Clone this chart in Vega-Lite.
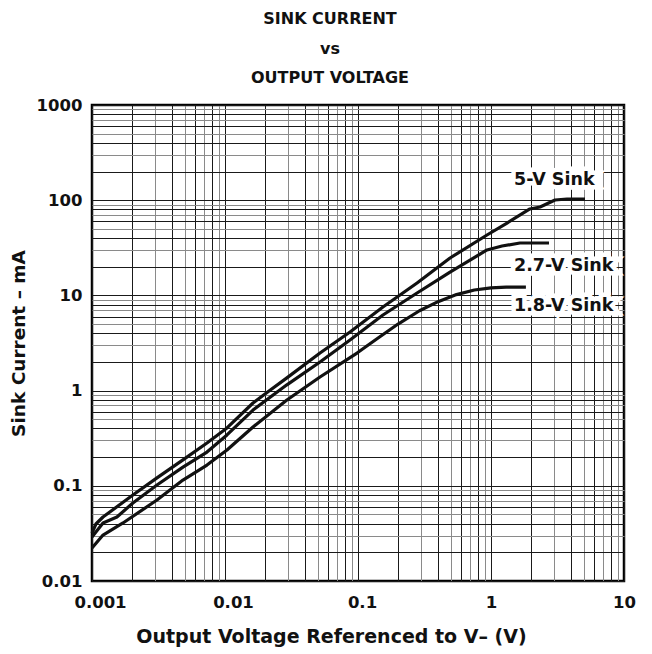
{
  "$schema": "https://vega.github.io/schema/vega-lite/v6.json",
  "width": 532,
  "height": 476,
  "autosize": {"type": "none"},
  "padding": {"left": 92, "top": 105, "right": 28, "bottom": 73},
  "background": "white",
  "title": {
    "text": ["SINK CURRENT", "vs", "OUTPUT VOLTAGE"],
    "font": "DejaVu Sans",
    "fontSize": 16,
    "fontWeight": "bold",
    "lineHeight": 29.5,
    "anchor": "middle",
    "offset": 11,
    "dx": -28,
    "color": "#111111"
  },
  "config": {
    "view": {"stroke": "black", "strokeWidth": 2.5},
    "axis": {
      "labelFont": "DejaVu Sans",
      "labelFontWeight": "bold",
      "labelFontSize": 16.5,
      "labelColor": "#111111",
      "titleFont": "DejaVu Sans",
      "titleFontWeight": "bold",
      "titleFontSize": 18.5,
      "titleColor": "#111111",
      "domain": false,
      "ticks": false,
      "gridWidth": 1,
      "gridOpacity": 1
    }
  },
  "datasets": {
    "curves": [
      {"series": "5-V Sink", "v": 0.001, "i": 0.0319},
      {"series": "5-V Sink", "v": 0.00107, "i": 0.0397},
      {"series": "5-V Sink", "v": 0.00121, "i": 0.047},
      {"series": "5-V Sink", "v": 0.00203, "i": 0.08},
      {"series": "5-V Sink", "v": 0.00308, "i": 0.121},
      {"series": "5-V Sink", "v": 0.00483, "i": 0.187},
      {"series": "5-V Sink", "v": 0.00732, "i": 0.282},
      {"series": "5-V Sink", "v": 0.01035, "i": 0.405},
      {"series": "5-V Sink", "v": 0.01624, "i": 0.741},
      {"series": "5-V Sink", "v": 0.0218, "i": 1.01},
      {"series": "5-V Sink", "v": 0.0292, "i": 1.36},
      {"series": "5-V Sink", "v": 0.0518, "i": 2.48},
      {"series": "5-V Sink", "v": 0.0871, "i": 4.13},
      {"series": "5-V Sink", "v": 0.154, "i": 7.55},
      {"series": "5-V Sink", "v": 0.278, "i": 13.5},
      {"series": "5-V Sink", "v": 0.492, "i": 24.7},
      {"series": "5-V Sink", "v": 0.933, "i": 43.1},
      {"series": "5-V Sink", "v": 1.32, "i": 57.6},
      {"series": "5-V Sink", "v": 1.96, "i": 80.9},
      {"series": "5-V Sink", "v": 2.34, "i": 84.9},
      {"series": "5-V Sink", "v": 3.03, "i": 100.5},
      {"series": "5-V Sink", "v": 3.73, "i": 103},
      {"series": "5-V Sink", "v": 5.09, "i": 103},
      {"series": "2.7-V Sink", "v": 0.001, "i": 0.029},
      {"series": "2.7-V Sink", "v": 0.00121, "i": 0.0407},
      {"series": "2.7-V Sink", "v": 0.00154, "i": 0.047},
      {"series": "2.7-V Sink", "v": 0.00203, "i": 0.066},
      {"series": "2.7-V Sink", "v": 0.00308, "i": 0.102},
      {"series": "2.7-V Sink", "v": 0.00483, "i": 0.157},
      {"series": "2.7-V Sink", "v": 0.00732, "i": 0.226},
      {"series": "2.7-V Sink", "v": 0.01035, "i": 0.342},
      {"series": "2.7-V Sink", "v": 0.01624, "i": 0.625},
      {"series": "2.7-V Sink", "v": 0.0292, "i": 1.15},
      {"series": "2.7-V Sink", "v": 0.0518, "i": 2.0},
      {"series": "2.7-V Sink", "v": 0.0871, "i": 3.4},
      {"series": "2.7-V Sink", "v": 0.154, "i": 6.22},
      {"series": "2.7-V Sink", "v": 0.278, "i": 10.6},
      {"series": "2.7-V Sink", "v": 0.492, "i": 17.6},
      {"series": "2.7-V Sink", "v": 0.933, "i": 30.0},
      {"series": "2.7-V Sink", "v": 1.21, "i": 33.0},
      {"series": "2.7-V Sink", "v": 1.65, "i": 35.5},
      {"series": "2.7-V Sink", "v": 2.73, "i": 35.5},
      {"series": "1.8-V Sink", "v": 0.001, "i": 0.0222},
      {"series": "1.8-V Sink", "v": 0.00121, "i": 0.0304},
      {"series": "1.8-V Sink", "v": 0.00171, "i": 0.0407},
      {"series": "1.8-V Sink", "v": 0.00308, "i": 0.0709},
      {"series": "1.8-V Sink", "v": 0.00483, "i": 0.115},
      {"series": "1.8-V Sink", "v": 0.00732, "i": 0.165},
      {"series": "1.8-V Sink", "v": 0.01035, "i": 0.238},
      {"series": "1.8-V Sink", "v": 0.01624, "i": 0.415},
      {"series": "1.8-V Sink", "v": 0.0292, "i": 0.797},
      {"series": "1.8-V Sink", "v": 0.0518, "i": 1.39},
      {"series": "1.8-V Sink", "v": 0.0983, "i": 2.48},
      {"series": "1.8-V Sink", "v": 0.139, "i": 3.5},
      {"series": "1.8-V Sink", "v": 0.2, "i": 5.0},
      {"series": "1.8-V Sink", "v": 0.29, "i": 6.9},
      {"series": "1.8-V Sink", "v": 0.4, "i": 8.6},
      {"series": "1.8-V Sink", "v": 0.55, "i": 10.2},
      {"series": "1.8-V Sink", "v": 0.75, "i": 11.4},
      {"series": "1.8-V Sink", "v": 1.0, "i": 12.0},
      {"series": "1.8-V Sink", "v": 1.3, "i": 12.2},
      {"series": "1.8-V Sink", "v": 1.83, "i": 12.2}
    ],
    "labels": [
      {"label": "5-V Sink", "v": 1.49, "i": 163},
      {"label": "2.7-V Sink", "v": 1.49, "i": 20.4},
      {"label": "1.8-V Sink", "v": 1.49, "i": 7.74}
    ]
  },
  "layer": [
    {
      "data": {"name": "curves"},
      "mark": {"type": "line", "color": "#111111", "strokeWidth": 3.2, "strokeJoin": "round", "strokeCap": "butt"},
      "encoding": {
        "x": {
          "field": "v", "type": "quantitative",
          "scale": {"type": "log", "domain": [0.001, 10], "nice": false},
          "axis": {
            "title": "Output Voltage Referenced to V– (V)",
            "titleFontSize": 19,
            "titleX": 239,
            "values": [0.001,0.002,0.003,0.004,0.005,0.006,0.007,0.008,0.009,0.01,0.02,0.03,0.04,0.05,0.06,0.07,0.08,0.09,0.1,0.2,0.3,0.4,0.5,0.6,0.7,0.8,0.9,1,2,3,4,5,6,7,8,9,10],
            "labelExpr": "round(datum.value / pow(10, floor(log(datum.value)/LN10 + 1e-6))) == 1 ? format(datum.value, '~g') : ''",
            "labelFlush": false,
            "labelOffset": {"condition": [{"test": "datum.value < 0.05", "value": 8}, {"test": "datum.value < 0.5", "value": 4}], "value": 0},
            "labelPadding": 13,
            "titlePadding": 17,
            "gridColor": {"condition": {"test": "round(datum.value / pow(10, floor(log(datum.value)/LN10 + 1e-6))) % 2 == 0 || round(datum.value / pow(10, floor(log(datum.value)/LN10 + 1e-6))) == 1", "value": "#1a1a1a"}, "value": "#8a8a8a"}
          }
        },
        "y": {
          "field": "i", "type": "quantitative",
          "scale": {"type": "log", "domain": [0.01, 1000], "nice": false},
          "axis": {
            "title": "Sink Current – mA",
            "values": [0.01,0.02,0.03,0.04,0.05,0.06,0.07,0.08,0.09,0.1,0.2,0.3,0.4,0.5,0.6,0.7,0.8,0.9,1,2,3,4,5,6,7,8,9,10,20,30,40,50,60,70,80,90,100,200,300,400,500,600,700,800,900,1000],
            "labelExpr": "round(datum.value / pow(10, floor(log(datum.value)/LN10 + 1e-6))) == 1 ? format(datum.value, '~g') : ''",
            "labelPadding": 10,
            "titlePadding": 8,
            "gridColor": {"condition": {"test": "round(datum.value / pow(10, floor(log(datum.value)/LN10 + 1e-6))) % 2 == 0 || round(datum.value / pow(10, floor(log(datum.value)/LN10 + 1e-6))) == 1", "value": "#1a1a1a"}, "value": "#8a8a8a"}
          }
        },
        "detail": {"field": "series", "type": "nominal"}
      }
    },
    {
      "data": {"name": "labels"},
      "mark": {"type": "text", "align": "left", "baseline": "middle", "font": "DejaVu Sans", "fontWeight": "bold", "fontSize": 17.5, "stroke": "white", "strokeWidth": 9, "strokeJoin": "miter", "fill": "white"},
      "encoding": {
        "x": {"field": "v", "type": "quantitative"},
        "y": {"field": "i", "type": "quantitative"},
        "text": {"field": "label", "type": "nominal"}
      }
    },
    {
      "data": {"name": "labels"},
      "mark": {"type": "text", "align": "left", "baseline": "middle", "font": "DejaVu Sans", "fontWeight": "bold", "fontSize": 17.5, "fill": "#111111"},
      "encoding": {
        "x": {"field": "v", "type": "quantitative"},
        "y": {"field": "i", "type": "quantitative"},
        "text": {"field": "label", "type": "nominal"}
      }
    }
  ]
}
